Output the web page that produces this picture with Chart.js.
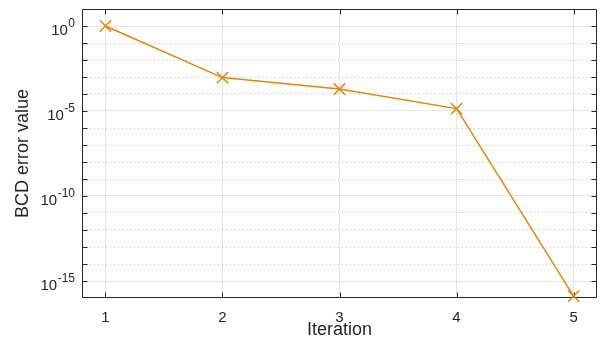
<!DOCTYPE html>
<html><head><meta charset="utf-8">
<script src="https://cdn.jsdelivr.net/npm/chart.js@4"></script>
<style>html,body{margin:0;padding:0;background:#fff}</style>
</head><body>
<canvas id="c" width="599" height="342" style="width:599px;height:342px;display:block"></canvas>
<script>
const iterations = [1, 2, 3, 4, 5];
const bcdError = [1, 9.2e-4, 1.96e-4, 1.38e-5, 1.3e-16];
const xTickValues = [1, 2, 3, 4, 5];
const yLabelExponents = [0, -5, -10, -15];
const yMinExp = -16, yMaxExp = 1;
const lineColor = 'rgb(230,133,8)';
const FONT = "'Liberation Sans', Arial, Helvetica, sans-serif";
const TXT = '#262626';

function expOf(v){ return Math.round(Math.log10(v)); }

const boxPlugin = {
  id: 'box',
  beforeDatasetsDraw(chart) {
    const {ctx, chartArea: a, scales} = chart;
    ctx.save();
    ctx.strokeStyle = '#262626';
    ctx.lineWidth = 1;
    ctx.beginPath();
    const L = Math.round(a.left) + 0.5, R = Math.round(a.right) - 0.5;
    const T = Math.round(a.top) + 0.5, B = Math.round(a.bottom) - 0.5;
    ctx.rect(L, T, R - L, B - T);
    const tl = 5;
    scales.y.ticks.forEach(t => {
      const e = expOf(t.value);
      if (e === yMinExp || e === yMaxExp) return;
      const y = Math.round(scales.y.getPixelForValue(t.value)) + 0.5;
      ctx.moveTo(L, y); ctx.lineTo(L + tl, y);
      ctx.moveTo(R, y); ctx.lineTo(R - tl, y);
    });
    scales.x.ticks.forEach(t => {
      const x = Math.round(scales.x.getPixelForValue(t.value)) + 0.5;
      ctx.moveTo(x, B); ctx.lineTo(x, B - tl);
      ctx.moveTo(x, T); ctx.lineTo(x, T + tl);
    });
    ctx.stroke();

    // y tick labels with superscript exponents
    ctx.fillStyle = TXT;
    ctx.textBaseline = 'alphabetic';
    ctx.textAlign = 'left';
    const rightEdge = a.left - 7;
    scales.y.ticks.forEach(t => {
      const e = expOf(t.value);
      if (!yLabelExponents.includes(e)) return;
      const y = scales.y.getPixelForValue(t.value);
      const expStr = String(e);
      ctx.font = '12px ' + FONT;
      const w2 = ctx.measureText(expStr).width;
      ctx.font = '15px ' + FONT;
      const w1 = ctx.measureText('10').width;
      ctx.fillText('10', rightEdge - w2 - w1 - 0.5, y + 9);
      ctx.font = '12px ' + FONT;
      ctx.fillText(expStr, rightEdge - w2, y + 1);
    });
    ctx.restore();
  }
};

new Chart(document.getElementById('c'), {
  type: 'line',
  data: {
    datasets: [{
      data: iterations.map((x, i) => ({x, y: bcdError[i]})),
      borderColor: lineColor,
      backgroundColor: lineColor,
      borderWidth: 1.5,
      pointStyle: 'crossRot',
      pointRadius: 8,
      pointBorderWidth: 1.5,
      pointBorderColor: lineColor,
      tension: 0,
      clip: false
    }]
  },
  options: {
    responsive: false,
    animation: false,
    devicePixelRatio: 1,
    layout: {autoPadding: false, padding: {top: 9, right: 2, left: 0, bottom: 0}},
    plugins: {legend: {display: false}, tooltip: {enabled: false}},
    scales: {
      x: {
        type: 'linear',
        min: 0.8, max: 5.2,
        afterBuildTicks: s => { s.ticks = xTickValues.map(v => ({value: v})); },
        afterFit: s => { s.height = 44; s.paddingLeft = 0; s.paddingRight = 0; },
        ticks: {
          color: TXT, padding: 11, maxRotation: 0, autoSkip: false,
          font: {family: FONT, size: 15},
          callback: v => String(v)
        },
        grid: {color: 'rgba(0,0,0,0.1)', lineWidth: 1, drawTicks: false},
        border: {display: false},
        title: {display: true, text: 'Iteration', color: TXT,
          font: {family: FONT, size: 18}, padding: {top: 0, bottom: 1}}
      },
      y: {
        type: 'logarithmic',
        min: Math.pow(10, yMinExp), max: Math.pow(10, yMaxExp),
        afterBuildTicks: s => {
          const t = [];
          for (let e = yMinExp; e <= yMaxExp; e++) t.push({value: Math.pow(10, e)});
          s.ticks = t;
        },
        afterFit: s => { s.width = 82; s.paddingTop = 0; s.paddingBottom = 0; },
        ticks: {display: false},
        grid: {
          drawTicks: false, lineWidth: 1,
          color: c => {
            if (!c.tick) return 'rgba(0,0,0,0)';
            const e = expOf(c.tick.value);
            if (e === yMinExp || e === yMaxExp) return 'rgba(0,0,0,0)';
            return e % 5 === 0 ? 'rgba(0,0,0,0.1)' : 'rgba(0,0,0,0.22)';
          }
        },
        border: {
          display: false,
          dash: c => { if (!c.tick) return []; return expOf(c.tick.value) % 5 === 0 ? [] : [1, 3]; }
        },
        title: {display: true, text: 'BCD error value', color: TXT,
          font: {family: FONT, size: 18}, padding: {top: 12, bottom: 0}}
      }
    }
  },
  plugins: [boxPlugin]
});
</script>
</body></html>
